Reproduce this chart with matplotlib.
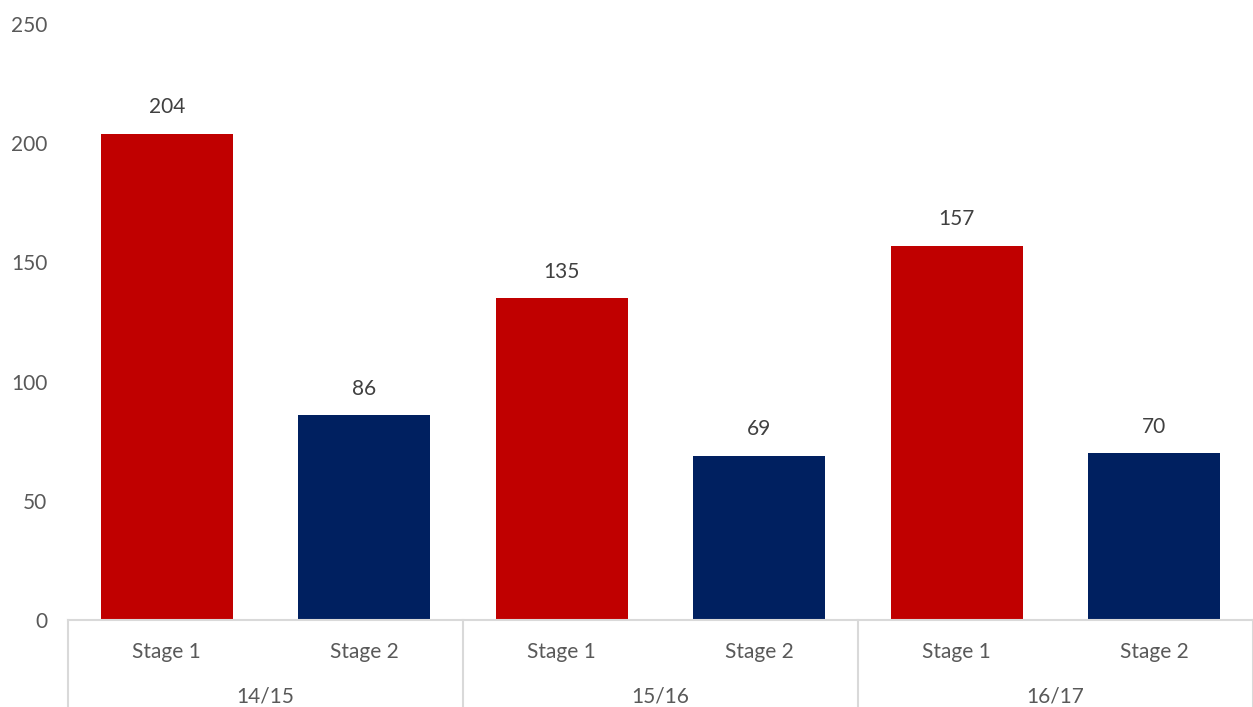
import matplotlib
matplotlib.use("Agg")
import matplotlib.pyplot as plt
from matplotlib.transforms import blended_transform_factory

plt.rcParams['font.family'] = ['Lato', 'DejaVu Sans']

seasons = ["14/15", "15/16", "16/17"]
stages = ["Stage 1", "Stage 2"]
stage1 = [204, 135, 157]
stage2 = [86, 69, 70]
yticks = [0, 50, 100, 150, 200, 250]

RED = "#C00000"
NAVY = "#002060"
TEXT = "#595959"
GRID = "#D9D9D9"

fig = plt.figure(figsize=(12.53, 7.07), dpi=100)
ax = fig.add_axes([68 / 1253, 1 - 620 / 707, 1 - 68 / 1253, (620 - 24) / 707])

values, colors, labels = [], [], []
for s1, s2 in zip(stage1, stage2):
    values += [s1, s2]
    colors += [RED, NAVY]
    labels += stages
xs = list(range(len(values)))

bars = ax.bar(xs, values, width=0.67, color=colors)
for x, v in zip(xs, values):
    ax.annotate(str(v), (x, v), xytext=(0, 19), textcoords="offset points",
                ha="center", va="center", fontsize=15, color="#404040")

ax.set_xlim(-0.5, len(values) - 0.5)
ax.set_ylim(0, 250)
ax.set_yticks(yticks)
ax.tick_params(axis="y", length=0, pad=15, labelsize=15, labelcolor=TEXT)
ax.set_xticks([])
for side in ("left", "right", "top"):
    ax.spines[side].set_visible(False)
ax.spines["bottom"].set_color(GRID)
ax.spines["bottom"].set_linewidth(1.5)

trans = blended_transform_factory(ax.transData, ax.transAxes)
# stage labels and season labels under the axis
for x, lab in zip(xs, labels):
    ax.text(x, -0.054, lab, transform=trans, ha="center", va="center",
            fontsize=15, color=TEXT)
for i, season in enumerate(seasons):
    ax.text(2 * i + 0.5, -0.129, season, transform=trans, ha="center",
            va="center", fontsize=15, color=TEXT)
# group separators
for b in [-0.5, 1.5, 3.5, 5.5]:
    ax.plot([b, b], [0, -0.2], transform=trans, color=GRID, lw=1.5,
            clip_on=False)

fig.savefig("out.png", dpi=100)
